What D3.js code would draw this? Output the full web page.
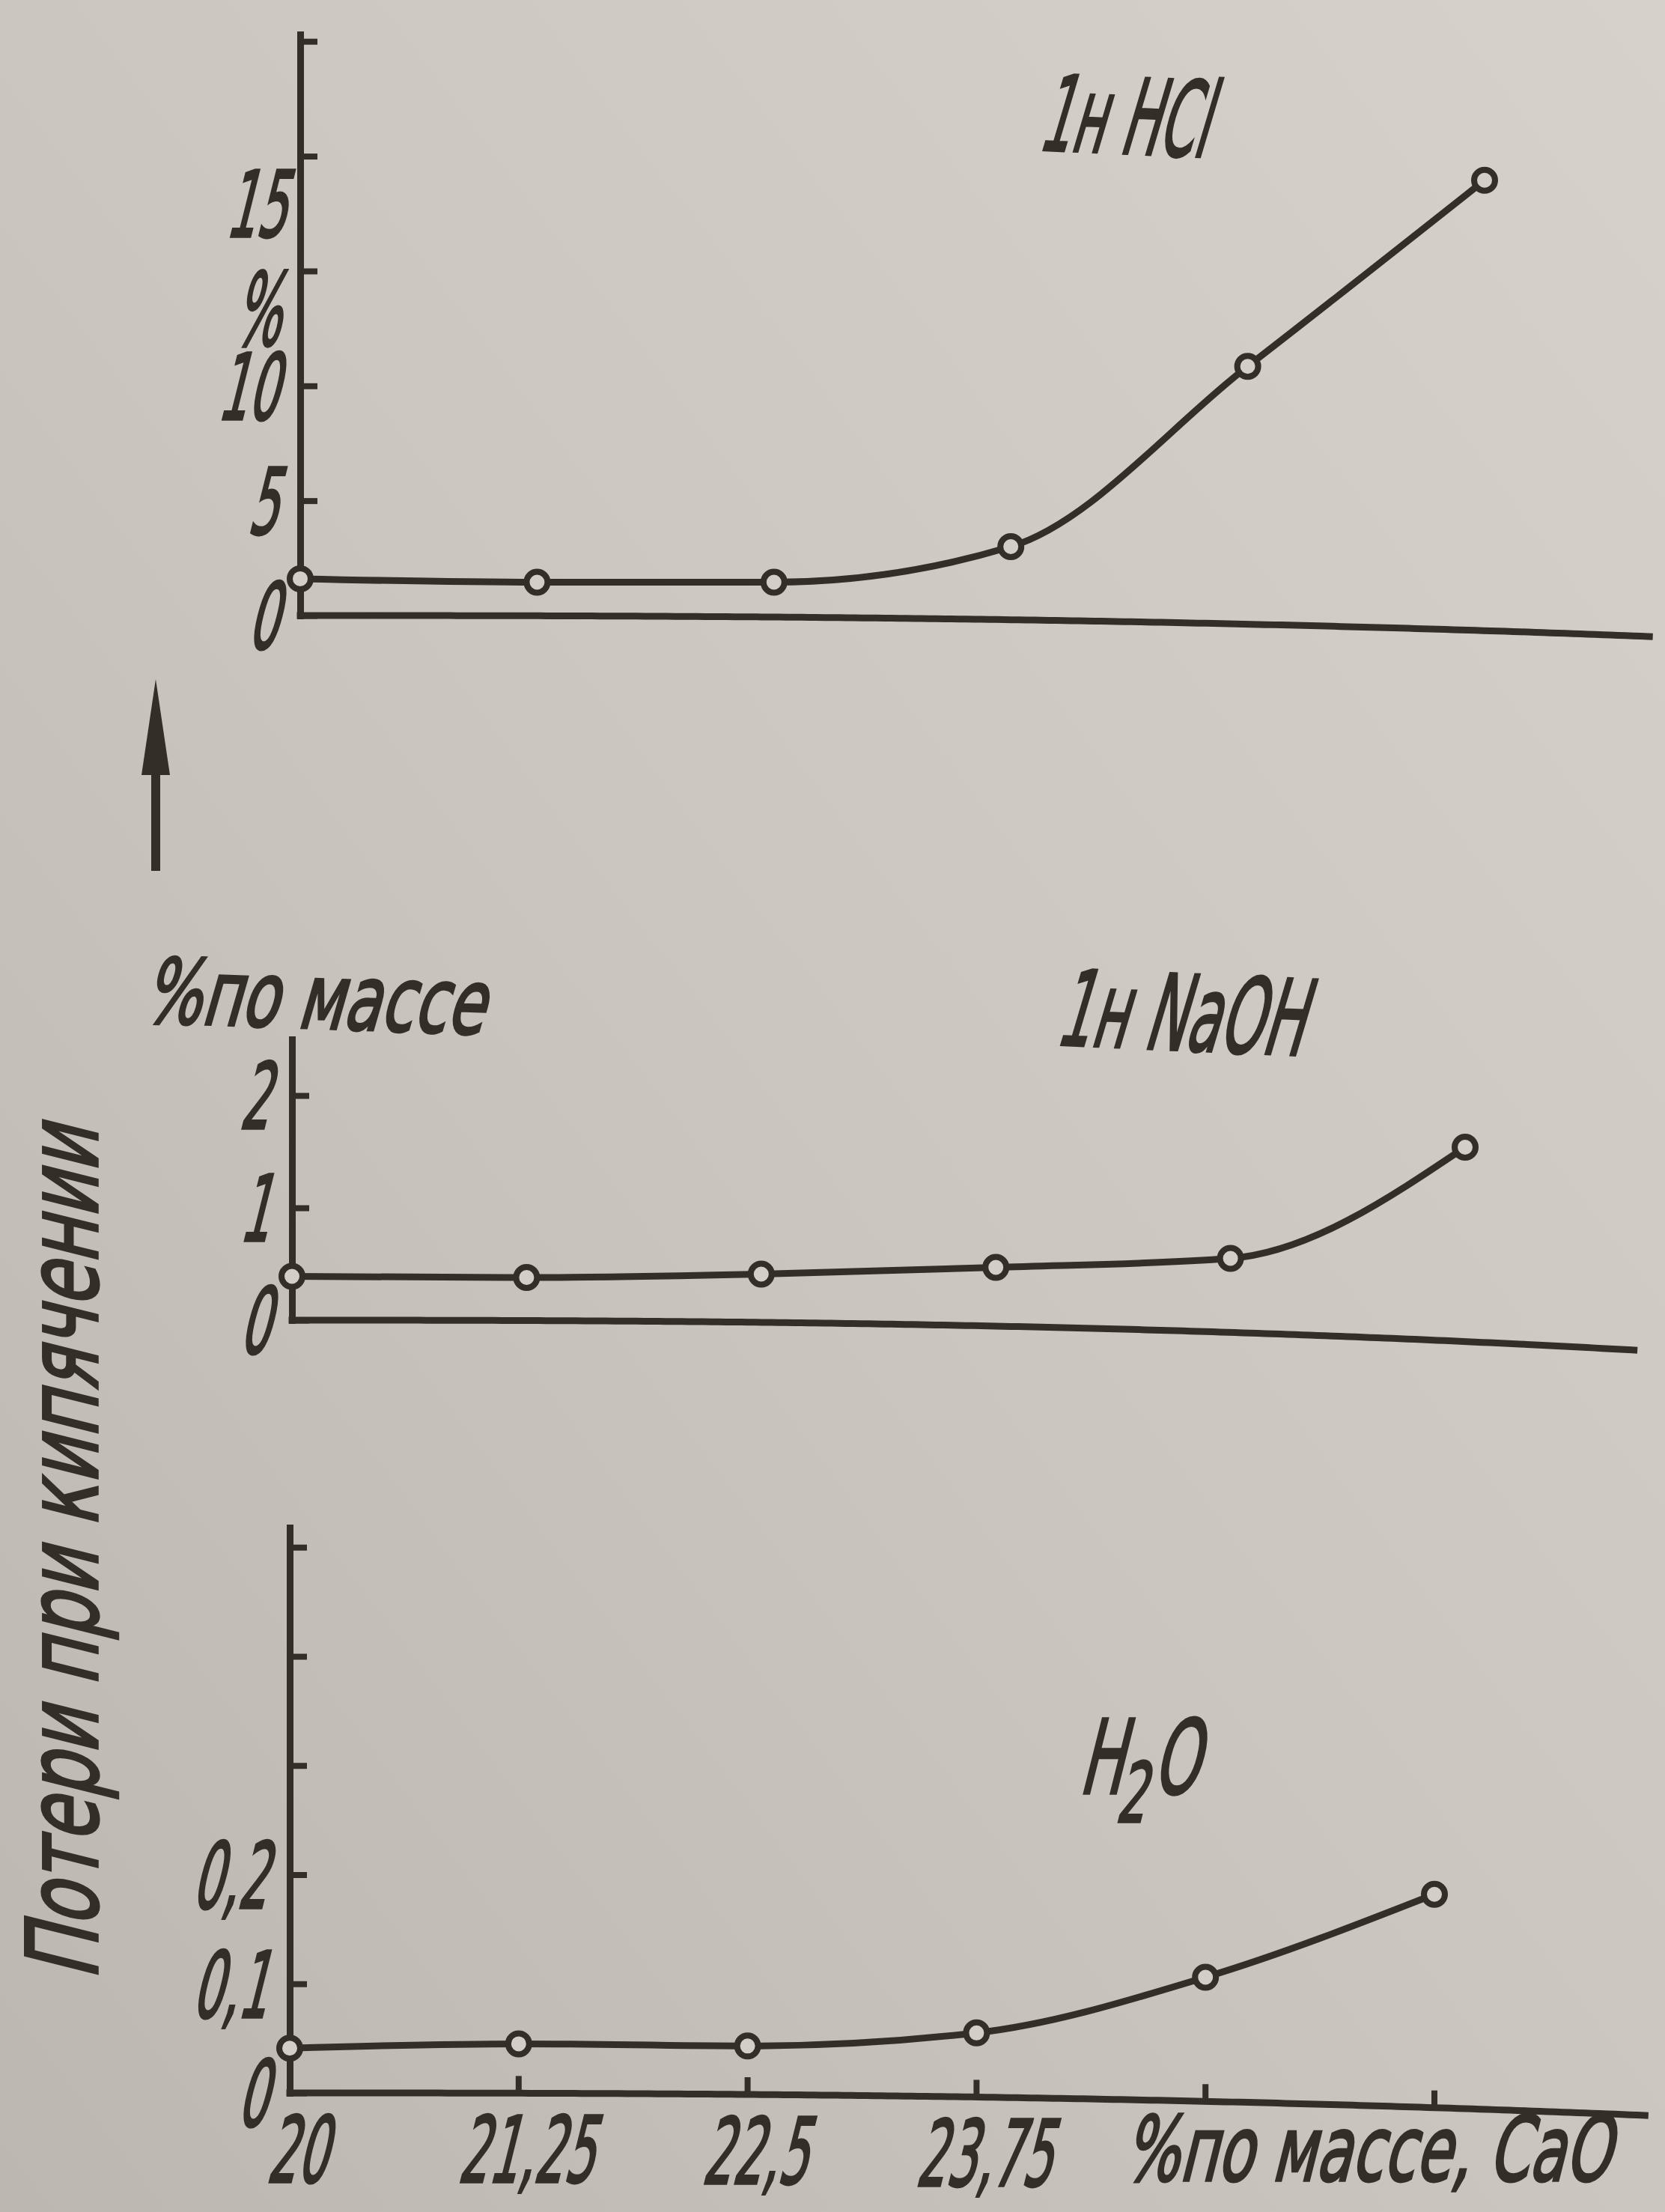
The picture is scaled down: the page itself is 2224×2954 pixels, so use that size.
<!DOCTYPE html>
<html>
<head>
<meta charset="utf-8">
<script src="https://cdn.jsdelivr.net/npm/d3@7"></script>
<style>
  body { margin: 0; background: #cbc7bf; }
  svg { display: block; }
  text { font-family: "DejaVu Sans", sans-serif; font-weight: normal; fill: #342e29;
         stroke: #342e29; stroke-width: 3.5px; }
</style>
</head>
<body>
<script>
    var w = 2224;
    var h = 2954;
    var ink = "#342e29";
    var paper = "#d3cfc7";

    // CaO content, % by mass
    var cao = [20, 21.25, 22.5, 23.75, 25, 26.25];
    // losses on boiling, % by mass
    var lossHCl  = [1.6, 1.45, 1.45, 3.0, 10.85, 18.95];
    var lossNaOH = [0.39, 0.38, 0.41, 0.47, 0.55, 1.54];
    var lossH2O  = [0.041, 0.045, 0.043, 0.055, 0.106, 0.182];

    // tick values and labels
    var caoTicks = [20, 21.25, 22.5, 23.75, 25, 26.25];
    var caoTickLabels = ["20", "21,25", "22,5", "23,75", "", ""];
    var hclTicks = [0, 5, 10, 15, 20, 25];
    var hclTickLabels = ["0", "5", "10", "15", "", ""];
    var naohTicks = [0, 1, 2];
    var naohTickLabels = ["0", "1", "2"];
    var h2oTicks = [0, 0.1, 0.2, 0.3, 0.4, 0.5];
    var h2oTickLabels = ["0", "0,1", "0,2", "", "", ""];

    var panels = [
        {values: lossHCl, ticks: hclTicks, labels: hclTickLabels,
         xr: [401, 1983], xEnd: 27.12, yDom: [0, 25.3], yr: [822, 46], sag: 28},
        {values: lossNaOH, ticks: naohTicks, labels: naohTickLabels,
         xr: [390, 1957], xEnd: 27.15, yDom: [0, 2.5], yr: [1763, 1388], sag: 40},
        {values: lossH2O, ticks: h2oTicks, labels: h2oTickLabels,
         xr: [387, 1916], xEnd: 27.4, yDom: [0, 0.518], yr: [2795, 2040], sag: 30, xLabels: true}
    ];

    var svg = d3.select("body")
                .append("svg")
                .attr("width", w)
                .attr("height", h);

    // paper
    var grad = svg.append("defs").append("linearGradient")
        .attr("id", "paper").attr("x1", "1").attr("y1", "0").attr("x2", "0").attr("y2", "1");
    grad.append("stop").attr("offset", "0").attr("stop-color", "#d6d2cb");
    grad.append("stop").attr("offset", "0.5").attr("stop-color", "#cbc6be");
    grad.append("stop").attr("offset", "1").attr("stop-color", "#bdb8af");
    svg.append("rect").attr("width", w).attr("height", h).attr("fill", "url(#paper)");

    // slanted, narrow drafting lettering (tick labels)
    function shape(sel, k, dx, dy) {
        sel.each(function() {
            var t = d3.select(this);
            if (!t.text()) return;
            var x = (+t.attr("x") || 0) + (dx || 0), y = (+t.attr("y") || 0) + (dy || 0);
            t.attr("x", 0).attr("y", 0)
             .attr("transform", "translate(" + x + "," + y + ") skewX(-14) scale(" + k + ",1)");
        });
    }

    // free labels, squeezed to the width they take in the picture
    function label(str, x, y, size, width, rot) {
        var t = svg.append("text")
            .style("font-size", size + "px");
        if (typeof str === "string") t.text(str);
        else str(t);
        var k = width / t.node().getComputedTextLength();
        t.attr("transform", "translate(" + x + "," + y + ") rotate(" + (rot || 0) + ") skewX(-14) scale(" + k + ",1)");
        return t;
    }

    panels.forEach(function(p) {
        var x = d3.scaleLinear().domain([20, 26.25]).range(p.xr);
        var y = d3.scaleLinear().domain(p.yDom).range(p.yr);
        var g = svg.append("g");

        var x0 = x(20), x1 = x(p.xEnd), base = y(0);
        // the page is curled near the right edge: the baseline sags
        var bend = function(px) { return p.sag * Math.pow((px - x0) / (x1 - x0), 2.5); };

        let xAxis = d3.axisBottom(x)
            .tickValues(p.xLabels ? caoTicks : [])
            .tickSize(-23)
            .tickSizeOuter(0)
            .tickPadding(32)
            .tickFormat(function(d, i) { return caoTickLabels[i]; });

        var gx = g.append("g")
            .attr("transform", "translate(0," + base + ")")
            .call(xAxis);
        var pts = d3.range(x0, x1, 10).concat([x1]).map(function(px) { return [px, bend(px)]; });
        gx.select(".domain").attr("d", d3.line()(pts));
        gx.selectAll(".tick").attr("transform", function(d) {
            return "translate(" + x(d) + "," + bend(x(d)) + ")";
        });

        let yAxis = d3.axisLeft(y)
            .tickValues(p.ticks)
            .tickSize(-23)
            .tickSizeOuter(0)
            .tickPadding(20)
            .tickFormat(function(d, i) { return p.labels[i]; });

        var gy = g.append("g")
            .attr("transform", "translate(" + x0 + ",0)")
            .call(yAxis);

        g.selectAll(".domain").attr("stroke", ink).attr("stroke-width", 9).attr("fill", "none")
            .attr("stroke-linecap", "square");
        g.selectAll(".tick line").attr("stroke", ink).attr("stroke-width", 8);
        g.selectAll("g").attr("font-family", null).attr("font-size", null);
        g.selectAll(".tick text").attr("fill", ink).style("font-size", "122px");

        gy.selectAll(".tick text").attr("dy", "0.36em");
        shape(gy.selectAll(".tick text"), 0.52, 0, 0);
        shape(gx.selectAll(".tick text"), 0.52, 30, 0);

        // the "15" on the HCl scale sits above its tick, leaving room for "%"
        if (p.ticks === hclTicks) {
            gy.selectAll(".tick").filter(function(d) { return d === 15; })
                .select("text")
                .attr("transform", "translate(-20," + (275 - y(15) + 40) + ") skewX(-14) scale(0.52,1)")
                .attr("dy", null);
            label("%", x0 - 90, (y(10) + y(15)) / 2 + 22, 135, 62);
        }

        let line = d3.line()
            .x(function(d, i) { return x(cao[i]); })
            .y(function(d) { return y(d); })
            .curve(d3.curveMonotoneX);

        g.append("path")
            .datum(p.values)
            .attr("d", line)
            .attr("fill", "none")
            .attr("stroke", ink)
            .attr("stroke-width", 9)
            .attr("stroke-linejoin", "round");

        g.selectAll("circle")
            .data(p.values)
            .enter()
            .append("circle")
            .attr("cx", function(d, i) { return x(cao[i]); })
            .attr("cy", function(d) { return y(d); })
            .attr("r", 14)
            .attr("fill", paper)
            .attr("stroke", ink)
            .attr("stroke-width", 8);
    });

    // titles of the panels
    label("1н HCl", 1385, 200, 140, 225, 2.5);
    label("1н NaOH", 1408, 1395, 140, 330, 2.5);
    label("%по массе", 190, 1365, 120, 455, 2);
    label(function(t) {
        t.append("tspan").text("H");
        t.append("tspan").attr("dy", 38).style("font-size", "110px").text("2");
        t.append("tspan").attr("dy", -38).text("O");
    }, 1440, 2395, 137, 160, 0);
    label("%по массе, СаО", 1500, 2912, 120, 650, 0);

    // common y title and arrow
    label("Потери при кипячении", 130, 2645, 132, 1140, -90);
    svg.append("line")
        .attr("x1", 208).attr("x2", 208)
        .attr("y1", 1163).attr("y2", 1020)
        .attr("stroke", ink).attr("stroke-width", 12);
    svg.append("path")
        .attr("d", "M208,907 L227,1035 L189,1035 Z")
        .attr("fill", ink);
</script>
</body>
</html>
